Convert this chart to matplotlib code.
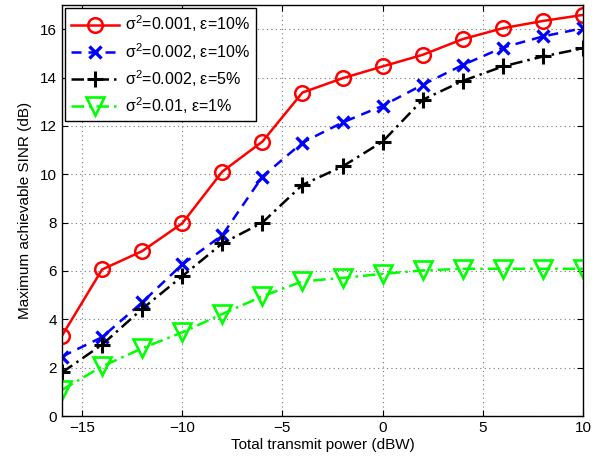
import matplotlib
matplotlib.use("Agg")
import matplotlib.pyplot as plt

plt.rcParams['font.family'] = ['Liberation Sans', 'DejaVu Sans']
plt.rcParams['mathtext.fontset'] = 'custom'
plt.rcParams['mathtext.rm'] = 'Liberation Sans'

power_dbw = [-16, -14, -12, -10, -8, -6, -4, -2, 0, 2, 4, 6, 8, 10]

sinr_s001_e10 = [3.32, 6.06, 6.82, 7.97, 10.11, 11.35, 13.38, 13.97, 14.46, 14.94, 15.59, 16.04, 16.34, 16.59]
sinr_s002_e10 = [2.46, 3.26, 4.70, 6.27, 7.48, 9.90, 11.31, 12.14, 12.83, 13.70, 14.52, 15.24, 15.70, 16.04]
sinr_s002_e5 = [1.80, 2.95, 4.43, 5.78, 7.14, 8.00, 9.56, 10.32, 11.35, 13.08, 13.86, 14.46, 14.87, 15.21]
sinr_s01_e1 = [1.08, 2.05, 2.80, 3.46, 4.22, 4.95, 5.57, 5.71, 5.88, 6.02, 6.09, 6.09, 6.09, 6.09]

labels = [r'$\mathregular{\sigma^2}$=0.001, ε=10%',
          r'$\mathregular{\sigma^2}$=0.002, ε=10%',
          r'$\mathregular{\sigma^2}$=0.002, ε=5%',
          r'$\mathregular{\sigma^2}$=0.01, ε=1%']
x_ticks = [-15, -10, -5, 0, 5, 10]
y_ticks = [0, 2, 4, 6, 8, 10, 12, 14, 16]

fig = plt.figure(figsize=(6.0, 4.62), dpi=100)
ax = fig.add_axes([62/600, 46/462, 521/600, 411/462])

ax.plot(power_dbw, sinr_s001_e10, color='#ff0000', linestyle='-', linewidth=1.8,
        marker='o', markersize=10.5, markerfacecolor='none', markeredgewidth=1.8, label=labels[0])
ax.plot(power_dbw, sinr_s002_e10, color='#0000ff', linestyle=(0, (4, 2.8)), linewidth=1.8,
        marker='x', markersize=8, markeredgewidth=2.4, label=labels[1])
ax.plot(power_dbw, sinr_s002_e5, color='#000000', linestyle=(0, (5, 2, 1, 2)), linewidth=1.8,
        marker='+', markersize=11, markeredgewidth=2.2, label=labels[2])
ax.plot(power_dbw, sinr_s01_e1, color='#00ff00', linestyle=(0, (5, 2, 1, 2)), linewidth=1.8,
        marker='v', markersize=13, markerfacecolor='none', markeredgewidth=1.9, label=labels[3])

ax.set_xlim(-16, 10)
ax.set_ylim(0, 17)
ax.set_xticks(x_ticks)
ax.set_yticks(y_ticks)
ax.set_xticklabels(['\u221215', '\u221210', '\u22125', '0', '5', '10'])
ax.tick_params(direction='in', top=True, right=True, labelsize=11, length=4, width=0.8)
ax.grid(True, linestyle=(0, (1, 3)), color='#777777', linewidth=0.8)
for s in ax.spines.values():
    s.set_linewidth(1.0)
    s.set_color('black')

ax.set_xlabel('Total transmit power (dBW)', fontsize=11, labelpad=2)
ax.set_ylabel('Maximum achievable SINR (dB)', fontsize=11, labelpad=6)

leg = ax.legend(loc='upper left', fontsize=11.5, frameon=True, fancybox=False,
                edgecolor='black', framealpha=1, borderaxespad=0.2,
                handlelength=3.0, labelspacing=0.4, borderpad=0.35, handletextpad=0.4)
leg.get_frame().set_linewidth(1.0)

fig.savefig('out.png', dpi=100)
